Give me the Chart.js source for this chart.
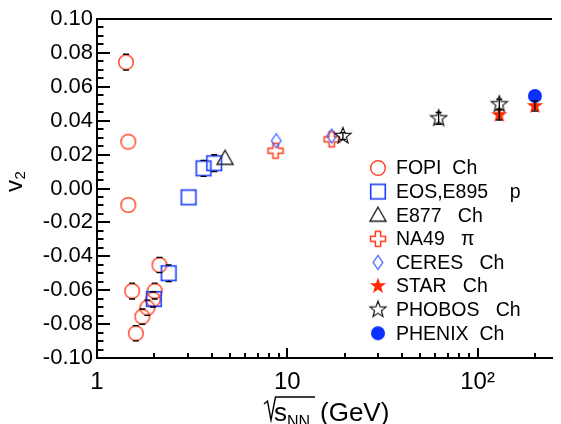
<!DOCTYPE html>
<html>
<head>
<meta charset="utf-8">
<script src="https://cdn.jsdelivr.net/npm/chart.js@4.4.1/dist/chart.umd.min.js"></script>
<style>
  html, body { margin: 0; padding: 0; background: #fff; }
  #wrap { width: 561px; height: 424px; }
</style>
</head>
<body>
<div id="wrap"><canvas id="c" width="561" height="424"></canvas></div>
<script>
// Elliptic flow v2 versus collision energy sqrt(s_NN) [GeV]
const fopiE    = [1.42, 1.46, 1.46, 2.13, 1.53, 2.01, 1.97, 1.84, 1.73, 1.60];
const fopiV2   = [0.0745, 0.0276, -0.0097, -0.0451, -0.0605, -0.0605, -0.0654, -0.0703, -0.0756, -0.0854];
const fopiErr  = [0.0047, 0.002, 0.002, 0.0045, 0.0047, 0.0047, 0.0045, 0.0045, 0.0045, 0.0045];

const eosE     = [2.38, 1.99, 3.03, 3.63, 4.13];
const eosV2    = [-0.050, -0.0652, -0.0052, 0.0119, 0.0149];
const eosErr   = [0.0049, 0.002, 0.002, 0.0047, 0.005];

const e877E    = [4.71];
const e877V2   = [0.0178];

const na49E    = [8.67, 17.1];
const na49V2   = [0.0223, 0.029];

const ceresE   = [8.75, 17.1];
const ceresV2  = [0.0282, 0.031];

const starE    = [130, 200];
const starV2   = [0.0434, 0.0487];
const starErr  = [0.003, 0.003];

const phobosE   = [19.6, 62.4, 130];
const phobosV2  = [0.031, 0.0414, 0.0497];
const phobosErr = [0.002, 0.0035, 0.003];

const phenixE  = [200];
const phenixV2 = [0.0546];

const legendLabels = ['FOPI  Ch', 'EOS,E895    p', 'E877   Ch', 'NA49   \u03c0',
                      'CERES   Ch', 'STAR   Ch', 'PHOBOS   Ch', 'PHENIX  Ch'];

const xTicks      = [1, 10, 100];
const xTickLabels = ['1', '10', '10\u00b2'];
const yTicks      = [-0.10, -0.08, -0.06, -0.04, -0.02, 0.00, 0.02, 0.04, 0.06, 0.08, 0.10];

const FONT = '"Liberation Sans", Arial, Helvetica, sans-serif';

// ---- marker glyphs -------------------------------------------------------
function glyph(draw) {
  const c = document.createElement('canvas');
  c.width = 24; c.height = 24;
  const g = c.getContext('2d');
  g.translate(12, 12);
  draw(g);
  return c;
}
function starPath(g, R, r) {
  g.beginPath();
  for (let i = 0; i < 10; i++) {
    const a = -Math.PI / 2 + i * Math.PI / 5;
    const rad = i % 2 ? r : R;
    const px = rad * Math.cos(a), py = rad * Math.sin(a);
    i ? g.lineTo(px, py) : g.moveTo(px, py);
  }
  g.closePath();
}
const mk = {
  fopi: glyph(g => { g.strokeStyle = '#ff4a2a'; g.lineWidth = 1.5; g.beginPath(); g.arc(0, 0, 7.3, 0, 2 * Math.PI); g.stroke(); }),
  eos: glyph(g => { g.strokeStyle = '#1c3cff'; g.lineWidth = 1.6; g.strokeRect(-7.3, -7.3, 14.6, 14.6); }),
  e877: glyph(g => { g.strokeStyle = '#222'; g.lineWidth = 1.4; g.beginPath(); g.moveTo(0, -8); g.lineTo(8, 6); g.lineTo(-8, 6); g.closePath(); g.stroke(); }),
  na49: glyph(g => {
    const a = 2.6, L = 7.5;
    g.strokeStyle = '#ff3a1a'; g.lineWidth = 1.5; g.beginPath();
    [[-a,-L],[a,-L],[a,-a],[L,-a],[L,a],[a,a],[a,L],[-a,L],[-a,a],[-L,a],[-L,-a],[-a,-a]]
      .forEach((p, i) => i ? g.lineTo(p[0], p[1]) : g.moveTo(p[0], p[1]));
    g.closePath(); g.stroke();
  }),
  ceres: glyph(g => { g.strokeStyle = '#3355ff'; g.lineWidth = 1.2; g.beginPath(); g.moveTo(0, -7); g.lineTo(4.8, 0); g.lineTo(0, 7); g.lineTo(-4.8, 0); g.closePath(); g.stroke(); }),
  star: glyph(g => { g.fillStyle = '#ff2a00'; starPath(g, 8.5, 3.4); g.fill(); }),
  phobos: glyph(g => { g.strokeStyle = '#111'; g.lineWidth = 1.2; starPath(g, 8.5, 3.6); g.stroke(); }),
  phenix: glyph(g => { g.fillStyle = '#0a30ff'; g.beginPath(); g.arc(0, 0, 7, 0, 2 * Math.PI); g.fill(); })
};

function pts(xs, ys) { return xs.map((v, i) => ({ x: v, y: ys[i] })); }

const datasets = [
  { label: legendLabels[7], data: pts(phenixE, phenixV2), pointStyle: mk.phenix, order: 1 },
  { label: legendLabels[5], data: pts(starE, starV2), pointStyle: mk.star, errors: starErr, gap: 0, order: 2 },
  { label: legendLabels[6], data: pts(phobosE, phobosV2), pointStyle: mk.phobos, errors: phobosErr, gap: 0, order: 3 },
  { label: legendLabels[4], data: pts(ceresE, ceresV2), pointStyle: mk.ceres, order: 4 },
  { label: legendLabels[3], data: pts(na49E, na49V2), pointStyle: mk.na49, order: 5 },
  { label: legendLabels[2], data: pts(e877E, e877V2), pointStyle: mk.e877, order: 6 },
  { label: legendLabels[1], data: pts(eosE, eosV2), pointStyle: mk.eos, errors: eosErr, gap: 7.3, order: 7 },
  { label: legendLabels[0], data: pts(fopiE, fopiV2), pointStyle: mk.fopi, errors: fopiErr, gap: 7.3, order: 8 }
];
datasets.forEach(d => { d.pointRadius = 8; d.showLine = false; });

const legendGlyphs = [mk.fopi, mk.eos, mk.e877, mk.na49, mk.ceres, mk.star, mk.phobos, mk.phenix];

// ---- drawing helpers -----------------------------------------------------
const background = {
  id: 'background',
  beforeDraw(chart) {
    const { ctx, width, height } = chart;
    ctx.save(); ctx.fillStyle = '#fff'; ctx.fillRect(0, 0, width, height); ctx.restore();
  }
};

const errorBars = {
  id: 'errorBars',
  afterDatasetsDraw(chart) {
    const { ctx, scales: { x, y } } = chart;
    ctx.save();
    ctx.strokeStyle = '#000';
    ctx.lineWidth = 1.3;
    chart.data.datasets.forEach(ds => {
      if (!ds.errors) return;
      ds.data.forEach((p, i) => {
        const e = ds.errors[i];
        const px = x.getPixelForValue(p.x);
        const mid = y.getPixelForValue(p.y);
        const top = y.getPixelForValue(p.y + e);
        const bot = y.getPixelForValue(p.y - e);
        const gap = ds.gap || 0;
        ctx.beginPath();
        if (mid - top > gap) {
          ctx.moveTo(px, top); ctx.lineTo(px, mid - gap);
          ctx.moveTo(px - 3, top); ctx.lineTo(px + 3, top);
        }
        if (bot - mid > gap) {
          ctx.moveTo(px, mid + gap); ctx.lineTo(px, bot);
          ctx.moveTo(px - 3, bot); ctx.lineTo(px + 3, bot);
        }
        ctx.stroke();
      });
    });
    ctx.restore();
  }
};

const frameAndTicks = {
  id: 'frameAndTicks',
  afterDraw(chart) {
    const { ctx, chartArea: a, scales: { x, y } } = chart;
    ctx.save();
    ctx.strokeStyle = '#000';
    ctx.lineWidth = 2;
    // top edge of the frame
    ctx.beginPath(); ctx.moveTo(a.left - 1, a.top); ctx.lineTo(a.right, a.top); ctx.stroke();
    // y ticks, pointing into the frame
    ctx.beginPath();
    for (let k = -20; k <= 20; k++) {
      const py = Math.round(y.getPixelForValue(k * 0.005));
      const len = k % 4 === 0 ? 13 : 6.5;
      ctx.moveTo(a.left, py); ctx.lineTo(a.left + len, py);
    }
    // x ticks on the log axis
    [1, 10, 100].forEach(dec => {
      for (let m = 1; m <= 9; m++) {
        const v = m * dec;
        if (v <= x.min || v > x.max) continue;
        const px = Math.round(x.getPixelForValue(v));
        const len = m === 1 ? 10 : 5;
        ctx.moveTo(px, a.bottom); ctx.lineTo(px, a.bottom - len);
      }
    });
    ctx.stroke();

    // legend
    const lx = 378, tx = 396, ly0 = 168, dy = 23.6;
    ctx.fillStyle = '#000';
    ctx.font = '19.5px ' + FONT;
    ctx.textBaseline = 'middle';
    ctx.textAlign = 'left';
    legendLabels.forEach((lab, i) => {
      const yy = ly0 + i * dy;
      const gph = legendGlyphs[i];
      ctx.drawImage(gph, lx - gph.width / 2, yy - gph.height / 2);
      ctx.fillText(lab, tx, yy + 1);
    });

    // x axis title: sqrt(s_NN) (GeV)
    ctx.textBaseline = 'alphabetic';
    ctx.lineWidth = 1.4;
    ctx.beginPath();
    ctx.moveTo(264, 404); ctx.lineTo(267.5, 401); ctx.lineTo(271, 420); ctx.lineTo(275.5, 397); ctx.lineTo(315, 397);
    ctx.stroke();
    ctx.font = '26px ' + FONT;
    ctx.fillText('s', 274, 421);
    ctx.font = '16px ' + FONT;
    ctx.fillText('NN', 287, 427);
    ctx.font = '26px ' + FONT;
    ctx.fillText('(GeV)', 320, 421);

    // y axis title: v_2
    ctx.save();
    ctx.translate(22, 192);
    ctx.rotate(-Math.PI / 2);
    ctx.font = '24px ' + FONT;
    ctx.fillText('v', 0, 0);
    ctx.font = '15px ' + FONT;
    ctx.fillText('2', 12.5, 3);
    ctx.restore();

    ctx.restore();
  }
};

new Chart(document.getElementById('c'), {
  type: 'scatter',
  data: { datasets },
  options: {
    responsive: false,
    animation: false,
    events: [],
    layout: { padding: { top: 19, right: 0, left: 0, bottom: 0 } },
    plugins: { legend: { display: false }, tooltip: { enabled: false } },
    scales: {
      x: {
        type: 'logarithmic',
        min: 1, max: 246,
        afterBuildTicks: s => { s.ticks = xTicks.map(v => ({ value: v })); },
        afterFit: s => { s.height = 66; },
        grid: { display: false, drawTicks: false },
        border: { display: true, color: '#000', width: 2 },
        ticks: {
          autoSkip: false, maxRotation: 0, padding: 10, color: '#000',
          font: { family: FONT, size: 24 },
          callback: (v, i) => xTickLabels[i]
        }
      },
      y: {
        min: -0.1, max: 0.1,
        afterBuildTicks: s => { s.ticks = yTicks.map(v => ({ value: v })); },
        afterFit: s => { s.width = 97; },
        grid: { display: false, drawTicks: false },
        border: { display: true, color: '#000', width: 2 },
        ticks: {
          padding: 4, color: '#000',
          font: { family: FONT, size: 22 },
          callback: v => v.toFixed(2)
        }
      }
    }
  },
  plugins: [background, errorBars, frameAndTicks]
});
</script>
</body>
</html>
